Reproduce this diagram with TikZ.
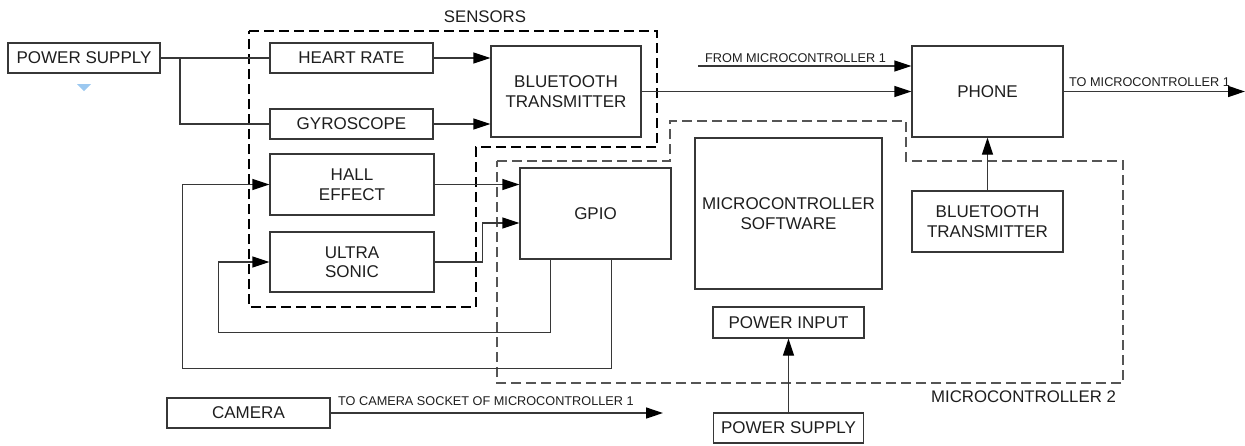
\documentclass[tikz,border=0pt]{standalone}
\usepackage{fontspec}
\setmainfont{Liberation Sans}
\usetikzlibrary{arrows.meta,calc}
\definecolor{lc}{RGB}{55,55,55}
\definecolor{dc}{RGB}{85,85,85}
\definecolor{tc}{RGB}{30,30,30}
\definecolor{markblue}{RGB}{155,200,240}
\tikzset{
  blk/.style={draw=lc, line width=1.3pt, fill=white, inner sep=0pt, align=center,
    text=tc, font=\fontsize{17}{19.5}\selectfont},
  arr/.style={draw=lc, line width=1.3pt, -{Triangle[length=17pt,width=11pt,color=black]}},
  ln/.style={draw=lc, line width=1.3pt},
  dsh/.style={line width=1.25pt, dash pattern=on 10pt off 5pt},
  sml/.style={text=tc, inner sep=0pt, font=\fontsize{12.7}{14}\selectfont},
  big/.style={text=tc, inner sep=0pt, font=\fontsize{16.8}{19.5}\selectfont}
}
\begin{document}
\begin{tikzpicture}[x=1pt,y=-1pt]
\useasboundingbox (0,0) rectangle (1245,445);
% dashed groups
\draw[dsh, draw=black] (249,31) -- (657,31) -- (657,147) -- (476,147) -- (476,307) -- (249,307) -- cycle;
\draw[dsh, draw=dc] (497,161) -- (670,161) -- (670,121) -- (906,121) -- (906,161) -- (1123,161) -- (1123,383) -- (497,383) -- cycle;
% blocks
\node[blk, minimum width=152pt, minimum height=30pt] (ps1) at (84,58) {POWER SUPPLY};
\node[blk, minimum width=163pt, minimum height=30pt] (hr) at (351.5,58) {HEART RATE};
\node[blk, minimum width=163pt, minimum height=30pt] (gyro) at (351.5,124) {GYROSCOPE};
\node[blk, minimum width=150pt, minimum height=91pt] (bt1) at (566,91.5) {BLUETOOTH\\TRANSMITTER};
\node[blk, minimum width=164pt, minimum height=61pt] (hall) at (352,184.5) {HALL\\EFFECT};
\node[blk, minimum width=164pt, minimum height=60pt] (us) at (352,262) {ULTRA\\SONIC};
\node[blk, minimum width=151pt, minimum height=91pt] (gpio) at (595.5,213.5) {GPIO};
\node[blk, minimum width=151pt, minimum height=91pt] (phone) at (987.5,91.5) {PHONE};
\node[blk, minimum width=187pt, minimum height=151pt] (mcs) at (788.5,213.5) {MICROCONTROLLER\\SOFTWARE};
\node[blk, minimum width=151pt, minimum height=31pt] (pin) at (788.5,322.5) {POWER INPUT};
\node[blk, minimum width=150pt, minimum height=30pt] (ps2) at (788.5,428) {POWER SUPPLY};
\node[blk, minimum width=151pt, minimum height=61pt] (bt2) at (987.5,221.5) {BLUETOOTH\\TRANSMITTER};
\node[blk, minimum width=163pt, minimum height=30pt] (cam) at (248.5,413) {CAMERA};
% stray marker
\fill[markblue] (77,84) -- (91,84) -- (84,91) -- cycle;
% labels
\node[big] (lsens) at (485,17) {SENSORS};
\node[big] (lmc2) at (1023.5,397) {MICROCONTROLLER 2};
\node[sml, anchor=west] (lfrom) at (705,58.5) {FROM MICROCONTROLLER 1};
\node[sml, anchor=west] (lto) at (1069,82) {TO MICROCONTROLLER 1};
\node[sml, anchor=west] (lcam) at (338,401) {TO CAMERA SOCKET OF MICROCONTROLLER 1};
% coordinates
\coordinate (j1) at (180,58);
\coordinate (fm) at (698,66);
\coordinate (tm) at (1245,91.5);
\coordinate (ct) at (663,413);
% connectors
\draw[ln] (ps1.east) -- (hr.west);
\draw[ln] (j1) |- (gyro.west);
\draw[arr] (hr.east) -- (hr.east -| bt1.west);
\draw[arr] (gyro.east) -- (gyro.east -| bt1.west);
\draw[arr] (bt1.east) -- (phone.west);
\draw[arr] (fm) -- (fm -| phone.west);
\draw[arr] (phone.east) -- (tm);
\draw[arr] (hall.east) -- (hall.east -| gpio.west);
\draw[arr] (us.east) -- ++(48,0) |- ($(gpio.west)+(0,9.5)$);
\draw[arr] ($(gpio.south west)+(31,0)$) -- ++(0,73) -| ($(us.west)+(-51,0)$) -- (us.west);
\draw[arr] ($(gpio.south west)+(92,0)$) -- ++(0,109) -| ($(hall.west)+(-87,0)$) -- (hall.west);
\draw[arr] (bt2.north) -- (phone.south);
\draw[arr] (ps2.north) -- (pin.south);
\draw[arr] (cam.east) -- (ct);
\end{tikzpicture}
\end{document}
